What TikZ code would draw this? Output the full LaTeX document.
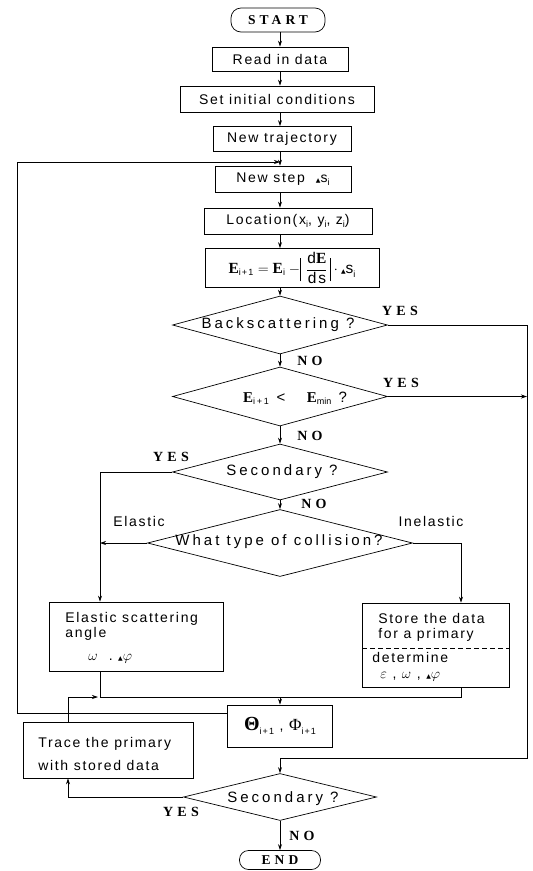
\documentclass[tikz,border=0pt]{standalone}
\usepackage{fontspec}
\setmainfont{Liberation Sans}[LetterSpace=12]
\newfontfamily\dfont{Liberation Sans}[LetterSpace=20]
\newfontfamily\serifb{Liberation Serif}[LetterSpace=30]
\newfontfamily\serifn{Liberation Serif}
\newfontfamily\symf{DejaVu Sans}
\usetikzlibrary{shapes.geometric,arrows.meta,calc}
\newcommand\mytri{{\symf\fontsize{6}{6}\selectfont ▲}}
\newcommand\mysub[1]{\raisebox{-0.45ex}{\fontsize{9}{9}\selectfont #1}}
\newcommand\bE{\mbox{\serifn\bfseries E}}
\newcommand\mybar{\vrule height 15pt depth 8pt width 0.7pt}
\begin{document}
\begin{tikzpicture}[x=1pt,y=-1pt,line width=0.7pt,
  font=\fontsize{14}{16}\selectfont,
  box/.style={draw,rectangle,inner sep=2pt},
  term/.style={draw,rectangle,rounded corners=10pt,inner sep=2pt,font=\serifb\bfseries\fontsize{13.5}{15}\selectfont},
  dia/.style={draw,diamond,inner sep=0pt},
  dtxt/.style={inner sep=0pt,font=\dfont\fontsize{15}{17}\selectfont},
  lab/.style={font=\serifb\bfseries\fontsize{14}{15}\selectfont,inner sep=0pt},
  txt/.style={inner sep=0pt},
  arr/.style={-{Stealth[length=6pt,width=4pt]}}]
\useasboundingbox (0,0) rectangle (533,871);
\coordinate (ax) at (280,0);
% main column
\node[term,minimum width=94pt,minimum height=24pt] (start) at (278,20) {START};
\node[box,minimum width=136pt,minimum height=24pt] (read) at (280,59) {Read in data};
\node[box,minimum width=194pt,minimum height=26pt] (init) at (277,99) {Set initial conditions};
\node[box,minimum width=138pt,minimum height=25pt] (traj) at (282,139) {New trajectory};
\node[box,minimum width=136pt,minimum height=26pt] (step) at (283,179) {New step \ \mytri s\mysub{i}};
\node[box,minimum width=168pt,minimum height=26pt] (loc) at (288,221) {Location(x\mysub{i}, y\mysub{i}, z\mysub{i})};
\node[box,minimum width=174pt,minimum height=39pt,font=\fontsize{15.5}{17}\selectfont] (ebox) at (292,268)
  {$\displaystyle\bE_{\mbox{\fontsize{9}{9}\selectfont i+1}} = \bE_{\mbox{\fontsize{9}{9}\selectfont i}} - \mybar\,\frac{\mbox{d\serifn\bfseries E}}{\mbox{ds}}\,\mybar\cdot\mbox{\mytri s\mysub{i}}$};
\node[dia,minimum width=215pt,minimum height=58pt] (d1) at (280,325) {};
\node[dtxt] (t1) at (278,325) {Backscattering ?};
\node[dia,minimum width=215pt,minimum height=59pt] (d2) at (280,396.5) {};
\node[dtxt] (t2) at (295,398) {$\bE_{\mbox{\fontsize{9}{9}\selectfont i+1}}$ <\ \ \ \bE{\fontsize{9}{9}\selectfont\raisebox{-0.45ex}{\mbox{\fontspec{Liberation Sans}min}}} ?};
\node[dia,minimum width=215pt,minimum height=56pt] (d3) at (280,472) {};
\node[dtxt] (t3) at (282,472) {Secondary ?};
\node[dia,minimum width=265pt,minimum height=67pt] (d4) at (280,543) {};
\node[dtxt] (t4) at (279,542) {What type of collision?};
% side boxes
\node[box,minimum width=174pt,minimum height=69pt] (elast) at (136,636.5) {};
\node[txt,anchor=base west] (e1) at (65,622) {Elastic scattering};
\node[txt,anchor=base west] (e2) at (65,637) {angle};
\node[txt,anchor=base west] (e3) at (88,660) {$\omega$\ \ .\ \mytri$\varphi$};
\node[box,minimum width=147pt,minimum height=84pt] (store) at (435.5,645) {};
\node[txt,anchor=base west] (s1) at (378,623) {Store the data};
\node[txt,anchor=base west] (s2) at (378,638) {for a primary};
\node[txt,anchor=base west] (s3) at (372,662) {determine};
\node[txt,anchor=base west] (s4) at (380,678) {$\varepsilon$ , $\omega$ , \mytri$\varphi$};
\coordinate (dl) at (362,648);
\coordinate (dr) at (509,648);
\draw[dashed,dash pattern=on 5pt off 3pt] (dl) -- (dr);
\node[box,minimum width=105pt,minimum height=42pt] (theta) at (279.5,726) {};
\node[txt] (th) at (280,726) {{\serifn\bfseries\fontsize{20}{20}\selectfont Θ}\mysub{i+1} , {\serifn\fontsize{17}{17}\selectfont Φ}\mysub{i+1}};
\node[box,minimum width=170pt,minimum height=56pt] (trace) at (108,750) {};
\node[txt,anchor=base west] (r1) at (38,747) {Trace the primary};
\node[txt,anchor=base west] (r2) at (38,770) {with stored data};
\node[dia,minimum width=193pt,minimum height=47pt] (d5) at (280,797) {};
\node[dtxt] (t5) at (283,799) {Secondary ?};
\node[term,minimum width=81pt,minimum height=19pt,rounded corners=9pt] (end) at (280,860) {END};
% labels
\node[lab] (y1) at (400,311) {YES};
\node[lab] (y2) at (401,383) {YES};
\node[lab] (y3) at (171,457) {YES};
\node[lab] (y4) at (181,812) {YES};
\node[lab] (n1) at (310,361) {NO};
\node[lab] (n2) at (310,436) {NO};
\node[lab] (n3) at (314,504) {NO};
\node[lab] (n4) at (302,836) {NO};
\node[txt] (le) at (139,521) {Elastic};
\node[txt] (li) at (431,521) {Inelastic};
% main connectors
\draw[arr] (start.south -| ax) -- (read.north -| ax);
\draw[arr] (read.south -| ax) -- (init.north -| ax);
\draw[arr] (init.south -| ax) -- (traj.north -| ax);
\draw[arr] (traj.south -| ax) -- (step.north -| ax);
\draw[arr] (step.south -| ax) -- (loc.north -| ax);
\draw[arr] (loc.south -| ax) -- (ebox.north -| ax);
\draw[arr] (ebox.south -| ax) -- (d1.north);
\draw[arr] (d1.south) -- (d2.north);
\draw[arr] (d2.south) -- (d3.north);
\draw[arr] (d3.south) -- (d4.north);
\draw[arr] (d5.south) -- (end.north);
% right side
\coordinate (rx) at (527,0);
\coordinate (rb) at (527,758);
\coordinate (rc) at (280,758);
\draw[arr] (d1.east) -- (d1.east -| rx) -- (rb) -- (rc) -- (d5.north);
\draw[arr] (d2.east) -- (d2.east -| rx);
% secondary yes -> elastic
\coordinate (lx) at (100,0);
\draw[arr] (d3.west) -- (d3.west -| lx) -- (elast.north -| lx);
\draw[arr] (d4.west) -- (d4.west -| lx);
\coordinate (ix) at (461,0);
\draw[arr] (d4.east) -- (d4.east -| ix) -- (store.north -| ix);
% merge to theta
\coordinate (my) at (0,697);
\coordinate (tx) at (68,0);
\draw (elast.south -| lx) -- (lx |- my);
\draw (store.south -| ix) -- (ix |- my) -- (ax |- my);
\draw[arr] (trace.north -| tx) -- (tx |- my) -- ([xshift=-2pt]lx |- my);
\draw[arr] (lx |- my) -- (ax |- my) -- (theta.north -| ax);
% loop back
\coordinate (lp) at (17,0);
\coordinate (ly) at (0,162);
\draw[arr] ([yshift=-9pt]theta.north west) -- ([yshift=-9pt]theta.north west -| lp) -- (lp |- ly) -- (ax |- ly);
% secondary yes -> trace
\draw[arr] (d5.west) -- (d5.west -| tx) -- (trace.south -| tx);
\end{tikzpicture}
\end{document}
